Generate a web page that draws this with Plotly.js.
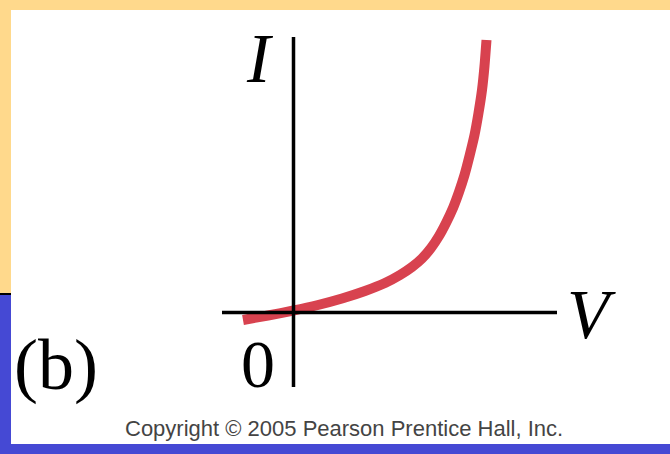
<!DOCTYPE html>
<html>
<head>
<meta charset="utf-8">
<script src="https://cdn.plot.ly/plotly-3.0.1.min.js"></script>
<style>
  html, body { margin: 0; padding: 0; background: #ffffff; }
  #chart { width: 670px; height: 454px; }
</style>
</head>
<body>
<div id="chart"></div>
<script>
// Diode-like I–V characteristic (arbitrary units)
const voltage = [-0.505, -0.255, 0.0, 0.245, 0.485, 0.715, 0.915, 1.065, 1.185, 1.285, 1.375, 1.455, 1.525, 1.595, 1.655, 1.71, 1.76, 1.81, 1.85, 1.885, 1.91, 1.93];
const current = [-0.075, -0.03, 0.02, 0.075, 0.14, 0.215, 0.295, 0.375, 0.455, 0.54, 0.645, 0.765, 0.895, 1.045, 1.205, 1.375, 1.565, 1.775, 1.995, 2.225, 2.465, 2.725];

const xAxisLabel = "V";
const yAxisLabel = "I";
const originLabel = "0";
const panelLabel = "(b)";
const creditText = "Copyright © 2005 Pearson Prentice Hall, Inc.";

const W = 670, H = 454;
const YELLOW = "#FFD98C";
const BLUE = "#4549D4";
const RED = "#D8424F";

function px(xp) { return xp / W; }
function py(yp) { return 1 - yp / H; }

const trace = {
  x: voltage,
  y: current,
  mode: "lines",
  type: "scatter",
  line: { color: RED, width: 10, shape: "spline", smoothing: 0.6 },
  hoverinfo: "skip",
  showlegend: false
};

const shapes = [
  // slide background frame
  { type: "rect", xref: "paper", yref: "paper", x0: 0, x1: 1, y0: py(10), y1: 1, fillcolor: YELLOW, line: { width: 0 }, layer: "below" },
  { type: "rect", xref: "paper", yref: "paper", x0: 0, x1: px(11), y0: py(293), y1: 1, fillcolor: YELLOW, line: { width: 0 }, layer: "below" },
  { type: "rect", xref: "paper", yref: "paper", x0: 0, x1: px(11), y0: 0, y1: py(295), fillcolor: BLUE, line: { width: 0 }, layer: "below" },
  { type: "rect", xref: "paper", yref: "paper", x0: 0, x1: px(11), y0: py(295), y1: py(293), fillcolor: "#000000", line: { width: 0 }, layer: "below" },
  { type: "rect", xref: "paper", yref: "paper", x0: 0, x1: 1, y0: 0, y1: py(444), fillcolor: BLUE, line: { width: 0 }, layer: "below" },
  // axes drawn on top of the curve
  { type: "line", xref: "x", yref: "y", x0: -0.715, x1: 2.635, y0: 0, y1: 0, line: { color: "#000000", width: 3.5 }, layer: "above" },
  { type: "line", xref: "x", yref: "y", x0: 0, x1: 0, y0: -0.745, y1: 2.755, line: { color: "#000000", width: 3.5 }, layer: "above" }
];

const serif = "'Liberation Serif', 'Times New Roman', serif";
const annotations = [
  { text: yAxisLabel, xref: "paper", yref: "paper", x: px(260), y: py(58), xanchor: "center", yanchor: "middle", showarrow: false,
    font: { family: serif, size: 70, color: "#000000", style: "italic" } },
  { text: xAxisLabel, xref: "paper", yref: "paper", x: px(591), y: py(315), xanchor: "center", yanchor: "middle", showarrow: false,
    font: { family: serif, size: 69, color: "#000000", style: "italic" } },
  { text: originLabel, xref: "paper", yref: "paper", x: px(257.5), y: py(364), xanchor: "center", yanchor: "middle", showarrow: false,
    font: { family: serif, size: 68, color: "#000000" } },
  { text: panelLabel, xref: "paper", yref: "paper", x: px(56), y: py(365), xanchor: "center", yanchor: "middle", showarrow: false,
    font: { family: serif, size: 72, color: "#000000" } },
  { text: creditText, xref: "paper", yref: "paper", x: px(344), y: py(428.4), xanchor: "center", yanchor: "middle", showarrow: false,
    font: { family: "'Liberation Sans', Arial, sans-serif", size: 22, color: "#444444" } }
];

const layout = {
  width: W,
  height: H,
  margin: { l: 0, r: 0, t: 0, b: 0, pad: 0 },
  paper_bgcolor: "#ffffff",
  plot_bgcolor: "#ffffff",
  showlegend: false,
  xaxis: { range: [-2.935, 3.765], visible: false, fixedrange: true },
  yaxis: { range: [-1.415, 3.125], visible: false, fixedrange: true },
  shapes: shapes,
  annotations: annotations
};

Plotly.newPlot("chart", [trace], layout, { displayModeBar: false, staticPlot: true });
</script>
</body>
</html>
